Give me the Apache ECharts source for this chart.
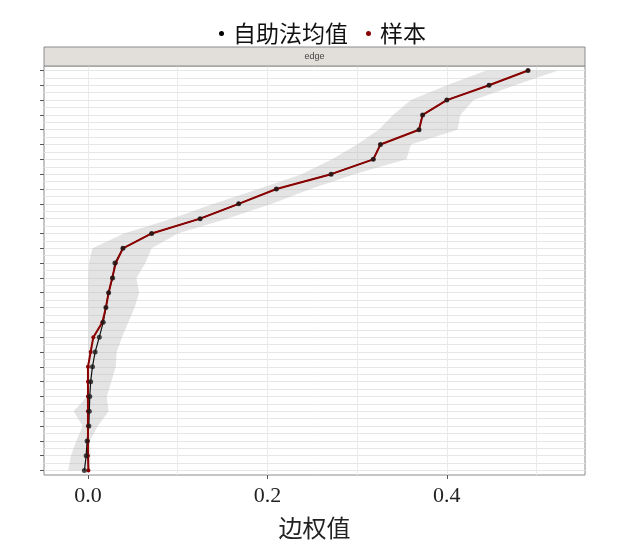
<!DOCTYPE html>
<html>
<head>
<meta charset="utf-8">
<script src="https://cdn.jsdelivr.net/npm/echarts@6/dist/echarts.min.js"></script>
<style>
html,body{margin:0;padding:0;background:#fff;}
#chart{width:617px;height:547px;}
</style>
</head>
<body>
<div id="chart"></div>
<script>
// index 0 = bottom edge, 27 = top edge
var edgeIndex = [0,1,2,3,4,5,6,7,8,9,10,11,12,13,14,15,16,17,18,19,20,21,22,23,24,25,26,27];
var bootMean = [-0.004,-0.002,-0.001,0.001,0.0015,0.002,0.003,0.005,0.008,0.0126,0.017,0.020,0.023,0.0275,0.030,0.039,0.071,0.125,0.168,0.210,0.271,0.318,0.326,0.369,0.373,0.400,0.447,0.4905];
var sampleVal = [0.0005,0.0,0.0,0.0,0.0,0.0,0.0,0.0,0.003,0.006,0.016,0.020,0.023,0.027,0.031,0.039,0.071,0.125,0.168,0.210,0.271,0.318,0.326,0.369,0.373,0.400,0.447,0.4905];
var ciLower = [-0.022,-0.019,-0.013,-0.006,-0.016,-0.001,0.0,0.0005,0.0005,0.0005,0.0005,0.0005,0.0005,0.0005,0.001,0.005,0.040,0.093,0.140,0.190,0.238,0.272,0.300,0.324,0.340,0.360,0.400,0.444];
var ciUpper = [0.002,0.003,0.002,0.011,0.023,0.021,0.026,0.031,0.032,0.038,0.045,0.052,0.057,0.054,0.064,0.071,0.100,0.155,0.205,0.248,0.297,0.355,0.360,0.412,0.415,0.430,0.476,0.524];
var xMajorTicks = [0, 0.2, 0.4];
var xGridLines = [0, 0.1, 0.2, 0.3, 0.4, 0.5];
var yHalfLines = edgeIndex.slice(0, 27).map(function(i){ return i + 0.5; });
var facetLabel = 'edge';
var xName = '边权值';
var nameBoot = '自助法均值';
var nameSample = '样本';

var chart = echarts.init(document.getElementById('chart'), null, {renderer: 'canvas'});
var gridL = 44, gridR = 32, gridT = 66, gridB = 72;
var option = {
  animation: false,
  backgroundColor: '#ffffff',
  legend: {
    left: 214, top: 17,
    itemWidth: 5, itemHeight: 5, itemGap: 18,
    data: [{name: nameBoot, icon: 'circle'}, {name: nameSample, icon: 'circle'}],
    textStyle: {fontFamily: 'Noto Sans CJK SC', fontSize: 23, color: '#111', padding: [0,0,0,4]}
  },
  grid: {left: gridL, right: gridR, top: gridT, bottom: gridB, show: true, borderColor: '#8c8c8c', borderWidth: 1, backgroundColor: 'transparent'},
  xAxis: [{
    type: 'value', min: -0.049, max: 0.554, position: 'bottom',
    axisLine: {show: false, onZero: false},
    axisTick: {show: true, customValues: xMajorTicks, length: 4, lineStyle: {color: '#555'}},
    axisLabel: {show: true, customValues: xMajorTicks, margin: 10, fontFamily: 'Liberation Serif', fontSize: 22, color: '#222',
      formatter: function(v){ return v.toFixed(1); }},
    splitLine: {show: false},
    name: xName, nameLocation: 'middle', nameGap: 41,
    nameTextStyle: {fontFamily: 'Noto Sans CJK SC', fontSize: 24, color: '#222'}
  }, {
    type: 'value', min: -0.049, max: 0.554, position: 'bottom',
    axisLine: {show: false, onZero: false},
    axisTick: {show: false, customValues: xGridLines},
    axisLabel: {show: false},
    splitLine: {show: true, lineStyle: {color: '#ebebeb', width: 1}}
  }],
  yAxis: [{
    type: 'value', min: -0.3, max: 27.3, position: 'left',
    axisLine: {show: false, onZero: false},
    axisTick: {show: true, customValues: edgeIndex, length: 4, lineStyle: {color: '#555'}},
    axisLabel: {show: false},
    splitLine: {show: true, lineStyle: {color: '#e6e6e6', width: 1}}
  }, {
    type: 'value', min: -0.3, max: 27.3, position: 'left',
    axisLine: {show: false, onZero: false},
    axisTick: {show: false, customValues: yHalfLines},
    axisLabel: {show: false},
    splitLine: {show: true, lineStyle: {color: '#e6e6e6', width: 1}}
  }],
  graphic: [{
    type: 'rect', z: 100,
    shape: {x: gridL, y: 47, width: 617 - gridL - gridR, height: gridT - 47},
    style: {fill: '#e2dfdb', stroke: '#8c8c8c', lineWidth: 1}
  }, {
    type: 'text', z: 101,
    x: gridL + (617 - gridL - gridR) / 2, y: (47 + gridT) / 2,
    style: {text: facetLabel, fontFamily: 'Liberation Sans', fontSize: 9, fill: '#444', align: 'center', verticalAlign: 'middle'}
  }],
  series: [{
    type: 'custom', name: 'ci', silent: true, z: 1,
    xAxisIndex: 0, yAxisIndex: 0,
    data: edgeIndex.map(function(i){ return [ciLower[i], ciUpper[i], i]; }),
    encode: {x: [0, 1], y: 2},
    renderItem: function(params, api){
      if (params.dataIndex !== 0) return null;
      var pts = [];
      for (var i = 0; i < edgeIndex.length; i++) pts.push(api.coord([ciLower[i], edgeIndex[i]]));
      for (var j = edgeIndex.length - 1; j >= 0; j--) pts.push(api.coord([ciUpper[j], edgeIndex[j]]));
      return {type: 'polygon', shape: {points: pts}, style: {fill: 'rgba(185,185,185,0.38)'}};
    }
  }, {
    type: 'line', name: nameBoot, z: 2,
    data: edgeIndex.map(function(i){ return [bootMean[i], i]; }),
    showSymbol: false, symbol: 'circle',
    itemStyle: {color: '#000'},
    lineStyle: {color: '#111', width: 1.2}
  }, {
    type: 'line', name: nameSample, z: 3,
    data: edgeIndex.map(function(i){ return [sampleVal[i], i]; }),
    symbol: 'circle', symbolSize: 4, showSymbol: true,
    itemStyle: {color: '#8b0000'},
    lineStyle: {color: '#8b0000', width: 2}
  }, {
    type: 'scatter', name: nameBoot, z: 4,
    data: edgeIndex.map(function(i){ return [bootMean[i], i]; }),
    symbol: 'circle', symbolSize: 5,
    itemStyle: {color: '#1a1a1a'}
  }]
};
chart.setOption(option);
</script>
</body>
</html>
